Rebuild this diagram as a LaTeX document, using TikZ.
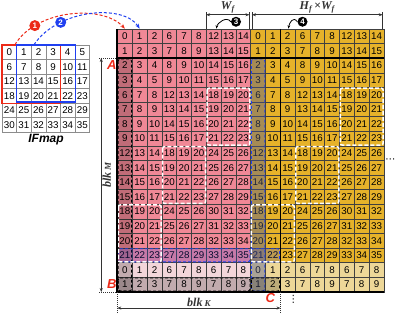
\documentclass[tikz,border=0pt]{standalone}
\usepackage{fontspec}
\setmainfont{Liberation Serif}
\setsansfont{Liberation Sans}
\newfontfamily\dotsfont{DejaVu Sans}
\usetikzlibrary{positioning, arrows.meta}
\definecolor{cellpink}{RGB}{240,136,150}
\definecolor{cellgold}{RGB}{230,178,42}
\definecolor{lightpink}{RGB}{243,214,218}
\definecolor{lightgold}{RGB}{237,215,152}
\definecolor{markred}{RGB}{236,42,24}
\definecolor{markblue}{RGB}{32,64,240}
\definecolor{slateblue}{RGB}{70,85,150}

\begin{document}
\begin{tikzpicture}[
    x=1pt, y=-1pt,
    cell/.style={
        rectangle,
        draw=black!75,
        line width=0.5pt,
        minimum width=14.8pt,
        minimum height=14.6pt,
        inner sep=0pt,
        font=\fontsize{9.8}{10}\selectfont\sffamily
    },
    pinkcell/.style={cell, fill=cellpink},
    goldcell/.style={cell, fill=cellgold},
    pinkcelllight/.style={cell, fill=lightpink},
    goldcelllight/.style={cell, fill=lightgold},
    ifcell/.style={
        cell,
        draw=black!45,
        fill=white,
        minimum width=14.6pt,
        minimum height=14.5pt
    },
    redwin/.style={draw=markred, line width=1.5pt},
    bluewin/.style={draw=markblue, line width=1.5pt},
    blackstrip/.style={
        draw=black,
        line width=0.9pt,
        dash pattern=on 3pt off 2pt,
        rounded corners=2pt,
        fill=black,
        fill opacity=0.2
    },
    bluestrip/.style={
        draw=markblue,
        line width=0.9pt,
        dash pattern=on 3pt off 2pt,
        rounded corners=2pt,
        fill=markblue,
        fill opacity=0.2
    },
    bluecol/.style={
        bluestrip,
        fill=slateblue,
        fill opacity=0.4
    },
    whitebox/.style={
        draw=white,
        line width=1.5pt,
        dash pattern=on 4pt off 2pt,
        rounded corners=2pt
    },
    thickline/.style={line width=1.6pt, black},
    guide/.style={black!80, line width=0.6pt, dash pattern=on 1pt off 1pt},
    tick/.style={black!80, line width=0.6pt},
    dimarrow/.style={
        {Stealth[length=4pt]}-{Stealth[length=4pt]},
        line width=0.6pt,
        black!80
    },
    turnarrow/.style={
        -{Stealth[length=3.5pt]},
        line width=0.8pt,
        black
    },
    redflow/.style={
        -{Stealth[length=5pt]},
        line width=1pt,
        dash pattern=on 3pt off 2pt,
        color=markred
    },
    blueflow/.style={
        redflow,
        color=markblue
    },
    numball/.style={
        circle,
        fill=black,
        text=white,
        inner sep=0pt,
        minimum size=10pt,
        font=\fontsize{8}{8}\selectfont\sffamily\bfseries
    },
    marklabel/.style={
        text=markred,
        inner sep=0pt,
        font=\fontsize{13}{13}\selectfont\sffamily\bfseries\itshape
    },
    dimlabel/.style={
        inner sep=0pt,
        font=\fontsize{12}{12}\selectfont\bfseries\itshape
    }
]
\useasboundingbox (0,0) rectangle (399,314);

% Matrix cells
\foreach \b [count=\i from 0] in {0,1,2,3,6,7,8,9,12,13,14,15,18,19,20,21,0,1}{
    \foreach \o [count=\j from 0] in {0,1,2,6,7,8,12,13,14,0,1,2,6,7,8,12,13,14}{
        \pgfmathtruncatemacro{\v}{\b+\o-6*(\i>15)*(mod(\j,9)>5)}
        \ifnum\j<9 \def\cs{pinkcell}\else\def\cs{goldcell}\fi
        \ifnum\i>15 \edef\cs{\cs light}\fi
        \node[\cs] (m-\i-\j) at ({117.5+(\j+0.5)*14.8}, {29+(\i+0.5)*14.6}) {\v};
    }
}

% IFmap cells
\foreach \r in {0,...,5}{
    \foreach \c in {0,...,5}{
        \pgfmathtruncatemacro{\v}{6*\r+\c}
        \node[ifcell] (f-\r-\c) at ({2+(\c+0.5)*14.6}, {45+(\r+0.5)*14.5}) {\v};
    }
}
\draw[redwin] (f-0-0.north west) rectangle (f-3-3.south east);
\draw[bluewin] (f-0-1.north west) rectangle ([shift={(0,-1.5)}]f-3-4.south east);
\node[below=2pt of f-5-2.south east, inner sep=0pt, font=\fontsize{12}{12}\selectfont\sffamily\bfseries\itshape] (iflabel) {IFmap};

% Shaded strips
\draw[blackstrip] ([shift={(1,1)}]m-2-0.north west) rectangle ([shift={(-1,-1)}]m-17-0.south east);
\draw[blackstrip] ([shift={(1,1)}]m-17-0.north west) rectangle ([shift={(-1,-1)}]m-17-8.south east);
\draw[bluestrip] ([shift={(1,1)}]m-15-0.north west) rectangle ([shift={(-1,-1)}]m-15-8.south east);
\draw[bluecol] ([shift={(1,1)}]m-2-9.north west) rectangle ([shift={(-1,-1)}]m-17-9.south east);
\draw[bluestrip] ([shift={(1,1)}]m-15-9.north west) rectangle ([shift={(-1,-1)}]m-15-10.south east);
\draw[blackstrip] ([shift={(1,1)}]m-17-9.north west) rectangle ([shift={(-1,-1)}]m-17-10.south east);

% Window boxes
\foreach \k in {0,9}{
    \pgfmathtruncatemacro{\ca}{\k+6}
    \pgfmathtruncatemacro{\cb}{\k+8}
    \pgfmathtruncatemacro{\cc}{\k+3}
    \pgfmathtruncatemacro{\cd}{\k+5}
    \pgfmathtruncatemacro{\ce}{\k+2}
    \draw[whitebox] ([shift={(1,1)}]m-4-\ca.north west) rectangle ([shift={(-1,-1)}]m-7-\cb.south east);
    \draw[whitebox] ([shift={(1,1)}]m-8-\cc.north west) rectangle ([shift={(-1,-1)}]m-11-\cd.south east);
    \draw[whitebox] ([shift={(1,1)}]m-12-\k.north west) rectangle ([shift={(-1,-1)}]m-15-\ce.south east);
}

% Thick borders
\draw[thickline] (m-2-0.north west) -- (m-2-17.north east);
\draw[thickline] (m-0-10.north east) -- (m-17-10.south east);
\draw[thickline] (m-0-0.north west) -- (m-17-0.south west) -- (m-17-17.south east);

% blk M
\coordinate[left=18pt of m-2-0.north west] (topA);
\coordinate[left=18pt of m-17-0.south west] (botB);
\draw[guide] (topA) -- (m-2-0.north west);
\draw[guide] (botB) -- (m-17-0.south west);
\draw[dimarrow] ([xshift=2pt]topA) -- node[dimlabel, rotate=90, anchor=north, yshift=-1pt] (blkM) {blk\,{\fontsize{9}{9}\selectfont M}} ([xshift=2pt]botB);
\node[marklabel, left=0.5pt of m-2-0] (labA) {A};
\node[marklabel, left=0.5pt of m-17-0] (labB) {B};

% blk K
\coordinate[below=22pt of m-17-0.south west] (kL);
\coordinate[below=22pt of m-17-10.south east] (kR);
\draw[guide] (m-17-0.south west) -- (kL);
\draw[guide] (m-17-10.south east) -- (kR);
\draw[dimarrow] ([yshift=6pt]kL) -- node[dimlabel, above=1.5pt] (blkK) {blk\,{\fontsize{9}{9}\selectfont K}} ([yshift=6pt]kR);
\node[marklabel, below=1pt of m-17-10, xshift=-2.5pt] (labC) {C};
\node[below=3pt of m-17-11.south east, xshift=-2pt, inner sep=0pt, font=\dotsfont\fontsize{10}{10}\selectfont] (vdots) {⋮};
\node[right=1pt of m-8-17.south east, inner sep=0pt, font=\dotsfont\fontsize{10}{10}\selectfont] (hdots) {⋯};

% W_f and H_f x W_f
\coordinate[above=17pt of m-0-6.north west] (wfL);
\coordinate[above=17pt of m-0-8.north east, xshift=-1.5pt] (wfR);
\coordinate[above=17pt of m-0-9.north west, xshift=1.5pt] (hwL);
\coordinate[above=17pt of m-0-17.north east, xshift=-1.5pt] (hwR);
\draw[tick] (m-0-6.north west) -- (wfL);
\draw[tick] ([xshift=-1.5pt]m-0-8.north east) -- (wfR);
\draw[tick] ([xshift=1.5pt]m-0-9.north west) -- (hwL);
\draw[tick] ([xshift=-1.5pt]m-0-17.north east) -- (hwR);
\draw[dimarrow] ([yshift=-3pt]wfL) -- node[dimlabel, above=1pt] (wflabel) {W\textsubscript{f}} ([yshift=-3pt]wfR);
\draw[dimarrow] ([yshift=-3pt]hwL) -- node[dimlabel, above=1pt] (hwlabel) {H\textsubscript{f}\,×W\textsubscript{f}} ([yshift=-3pt]hwR);
\node[numball] (no3) at ([shift={(7.5,-7)}]m-0-7.north) {3};
\node[numball] (no4) at ([shift={(0,-7)}]m-0-12.north) {4};
\draw[turnarrow] (no3.west) .. controls +(-4,-6) and +(1,-6) .. ([xshift=-5pt]m-0-6.north east);
\draw[turnarrow] (no4.west) .. controls +(-4,-6) and +(1,-6) .. ([xshift=-7pt]m-0-11.north east);

% Flow arrows from IFmap
\draw[redflow] ([xshift=-2pt]f-0-0.north east) .. controls +(22,-36) and +(-22,-24) .. (m-0-0.north)
    node[numball, fill=markred, pos=0.22, minimum size=11pt] (no1) {1};
\draw[blueflow] ([xshift=3pt]f-0-2.north west) .. controls +(24,-36) and +(-16,-25) .. (m-0-1.north)
    node[numball, fill=markblue, pos=0.27, minimum size=11pt] (no2) {2};

\end{tikzpicture}
\end{document}
